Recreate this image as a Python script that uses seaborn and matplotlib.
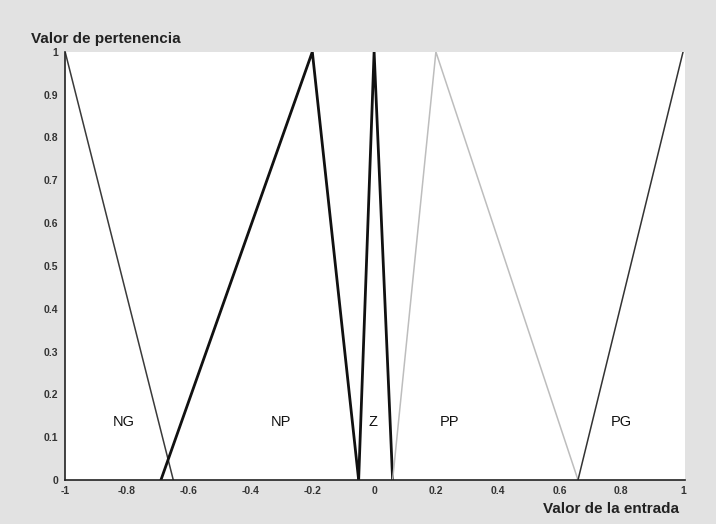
import pandas as pd
import matplotlib
matplotlib.use('Agg')
import matplotlib.pyplot as plt
import seaborn as sns

# membership functions (breakpoints)
ng_x = [-1.0, -0.65]
ng_y = [1.0, 0.0]
np_x = [-0.69, -0.2, -0.05]
np_y = [0.0, 1.0, 0.0]
z_x = [-0.05, 0.0, 0.06]
z_y = [0.0, 1.0, 0.0]
pp_x = [0.06, 0.2, 0.66]
pp_y = [0.0, 1.0, 0.0]
pg_x = [0.66, 1.0]
pg_y = [0.0, 1.0]

set_names = ['NG', 'NP', 'Z', 'PP', 'PG']
label_x = [-0.81, -0.30, -0.005, 0.245, 0.80]
label_y = [0.135, 0.135, 0.135, 0.135, 0.135]

x_ticks = [-1, -0.8, -0.6, -0.4, -0.2, 0, 0.2, 0.4, 0.6, 0.8, 1]
x_tick_labels = ['-1', '-0.8', '-0.6', '-0.4', '-0.2', '0', '0.2', '0.4', '0.6', '0.8', '1']
y_ticks = [0, 0.1, 0.2, 0.3, 0.4, 0.5, 0.6, 0.7, 0.8, 0.9, 1]
y_tick_labels = ['0', '0.1', '0.2', '0.3', '0.4', '0.5', '0.6', '0.7', '0.8', '0.9', '1']

sns.set_style('white')
plt.rcParams['font.family'] = ['Liberation Sans', 'DejaVu Sans']

fig = plt.figure(figsize=(7.16, 5.24), dpi=100, facecolor='#e2e2e2')
ax = fig.add_axes([0.091, 0.084, 0.866, 0.817])
ax.set_facecolor('white')

styles = {
    'NG': ('#3a3a3a', 1.1),
    'NP': ('#111111', 2.0),
    'Z': ('#111111', 2.0),
    'PP': ('#bdbdbd', 1.1),
    'PG': ('#333333', 1.1),
}
series = {
    'NG': (ng_x, ng_y),
    'NP': (np_x, np_y),
    'Z': (z_x, z_y),
    'PP': (pp_x, pp_y),
    'PG': (pg_x, pg_y),
}
for name in set_names:
    xs, ys = series[name]
    df = pd.DataFrame({'x': xs, 'y': ys})
    color, lw = styles[name]
    sns.lineplot(data=df, x='x', y='y', ax=ax, color=color, linewidth=lw,
                 sort=False, estimator=None)

for name, lx, ly in zip(set_names, label_x, label_y):
    ax.text(lx, ly, name, ha='center', va='center', fontsize=10.5, color='#111111')

ax.set_xlim(-1, 1.007)
ax.set_ylim(0, 1)
ax.set_xticks(x_ticks)
ax.set_xticklabels(x_tick_labels, fontsize=7.5, fontweight='bold', color='#333333')
ax.set_yticks(y_ticks)
ax.set_yticklabels(y_tick_labels, fontsize=7.5, fontweight='bold', color='#333333')
ax.tick_params(axis='x', direction='in', length=4, width=0.8, pad=4)
ax.tick_params(axis='y', direction='out', length=3, width=0.8, pad=2)
ax.set_xlabel('')
ax.set_ylabel('')

for side in ['top', 'right']:
    ax.spines[side].set_visible(False)
for side in ['left', 'bottom']:
    ax.spines[side].set_color('#222222')
    ax.spines[side].set_linewidth(1.2)

fig.text(0.043, 0.925, 'Valor de pertenencia', fontsize=11, fontweight='bold',
         color='#222222', ha='left', va='center')
fig.text(0.948, 0.028, 'Valor de la entrada', fontsize=11, fontweight='bold',
         color='#222222', ha='right', va='center')

fig.savefig('out.png', dpi=100, facecolor=fig.get_facecolor())
